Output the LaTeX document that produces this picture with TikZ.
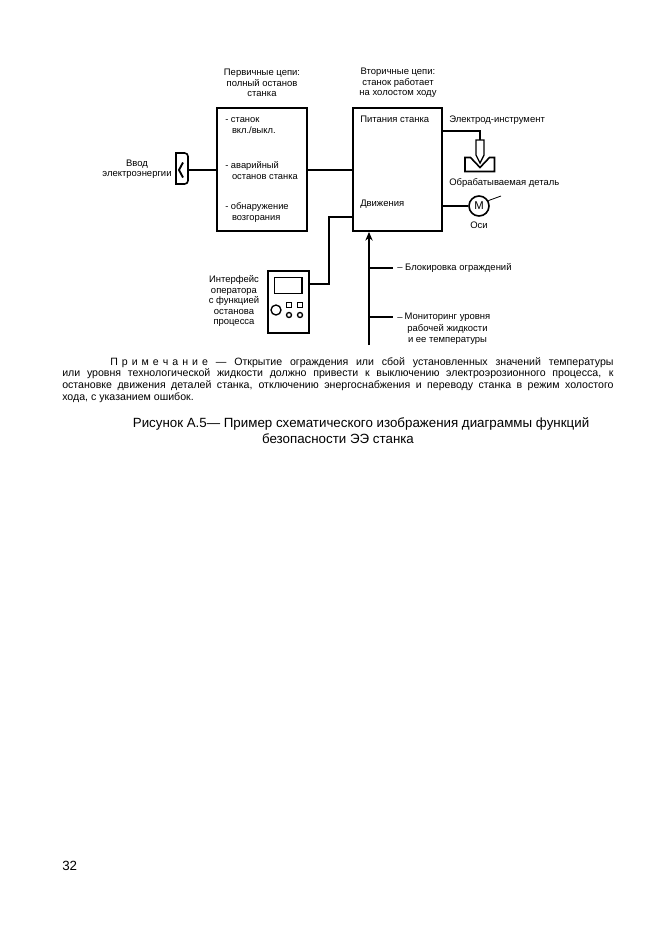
\documentclass[tikz,border=0pt]{standalone}
\usepackage{fontspec}
\setmainfont{Liberation Sans}
\usetikzlibrary{arrows.meta}
\tikzset{
    blockbox/.style={draw,line width=1.2pt,inner sep=0pt,anchor=north west},
    smalltext/.style={font=\fontsize{7.1}{7.9}\selectfont,align=center,inner sep=0pt},
    itemtext/.style={font=\fontsize{7}{8.25}\selectfont,inner sep=0pt,align=left,anchor=north west},
    wire/.style={line width=1.2pt},
    thinwire/.style={line width=1pt},
}

\begin{document}
\begin{tikzpicture}[x=0.75pt,y=-0.75pt,>=Stealth]
    \useasboundingbox (0,0) rectangle (661,936);

    % main blocks
    \node[blockbox,minimum width=67.75pt,minimum height=92.5pt] (primary) at (216,107) {};
    \node[blockbox,minimum width=67pt,minimum height=92.5pt] (secondary) at (352,107) {};
    \node[smalltext] (primarytitle) at (262,83) {Первичные цепи:\\полный останов\\станка};
    \node[smalltext] (secondarytitle) at (398,83) {Вторичные цепи:\\станок работает\\на холостом ходу};
    \node[itemtext] (item1) at (225,117.5) {- станок\\\ \ \,вкл./выкл.};
    \node[itemtext] (item2) at (225,161.5) {- аварийный\\\ \ \,останов станка};
    \node[itemtext] (item3) at (225,202.5) {- обнаружение\\\ \ \,возгорания};
    \node[smalltext,anchor=west] (power) at (360,119) {Питания станка};
    \node[smalltext,anchor=west] (motion) at (360,204) {Движения};

    % power inlet
    \coordinate (inlet) at (188,170);
    \draw[wire,rounded corners=2.5pt] (183,153) -- (188,153) -- (188,184) -- (183,184);
    \draw[wire] (183,153) -- (176,153) -- (176,184) -- (183,184);
    \draw[line width=1.4pt] (183,162.5) -- (179,170) -- (183,177.5);
    \node[smalltext] (inlettext) at (137,169) {Ввод\\электроэнергии};
    \draw[wire] (inlet) -- (primary.west |- inlet);
    \draw[wire] (primary.east |- inlet) -- (secondary.west |- inlet);

    % electrode and workpiece
    \coordinate (tooltop) at (480,140);
    \draw[thinwire] (secondary.east |- 0,131) -- (480,131) -- (tooltop);
    \draw[thinwire] (476,140) -- (484,140) -- (484,155) -- (480,163) -- (476,155) -- cycle;
    \draw[wire] (465,157.5) -- (470.5,157.5) -- (480,167.5) -- (489.5,157.5) -- (494.5,157.5) -- (494.5,171.5) -- (465,171.5) -- cycle;
    \node[smalltext,anchor=west] (tooltext) at (449,120) {Электрод-инструмент};
    \node[smalltext,anchor=west] (worktext) at (449,183) {Обрабатываемая деталь};

    % motor
    \node[draw,circle,line width=1.2pt,minimum size=15pt,inner sep=0pt,font=\fontsize{8.5}{9}\selectfont] (motor) at (479,206) {M};
    \draw[wire] (secondary.east |- motor) -- (motor);
    \draw[line width=0.6pt] (motor.30) -- (501,196);
    \node[smalltext] (motortext) at (479,225) {Оси};

    % operator panel
    \node[blockbox,minimum width=30.75pt,minimum height=46.5pt] (panel) at (267,270) {};
    \node[draw,line width=1pt,minimum width=20.5pt,minimum height=12pt,inner sep=0pt,anchor=north west] (screen) at (274,277) {};
    \node[draw,circle,line width=1pt,minimum size=7.5pt,inner sep=0pt] (knob) at (276,310) {};
    \foreach \x in {289,300}{
        \draw[line width=1pt] (\x-2.5,302.5) rectangle (\x+2.5,307.5);
        \draw[line width=1pt] (\x,315) circle (2.5);
    }
    \coordinate (panelbend) at (329,284);
    \coordinate (secondarybend) at (329,217);
    \draw[wire] (panel.east |- panelbend) -- (panelbend) -- (secondarybend) -- (secondary.west |- secondarybend);
    \node[smalltext] (paneltext) at (234,301) {Интерфейс\\оператора\\с функцией\\останова\\процесса};

    % interlocks
    \coordinate (trunkend) at (369,345);
    \coordinate (guardend) at (393,268);
    \coordinate (fluidend) at (393,317);
    \draw[thinwire,-{Stealth[length=6.5pt,width=5.5pt]}] (trunkend) -- (trunkend |- secondary.south);
    \draw[thinwire] (trunkend |- guardend) -- (guardend);
    \draw[thinwire] (trunkend |- fluidend) -- (fluidend);
    \node[smalltext,anchor=west] (guardtext) at (397,268) {– Блокировка ограждений};
    \node[smalltext,anchor=base west] (fluiddash) at (397,320) {–};
    \node[font=\fontsize{7.1}{8.5}\selectfont,align=center,inner sep=0pt,anchor=north] (fluidtext) at (447.5,313) {Мониторинг уровня\\рабочей жидкости\\и ее температуры};

    % note and caption
    \node[anchor=north west,inner sep=0pt,text width=413.5pt,align=justify,font=\fontsize{7.95}{8.75}\selectfont] (note) at (62,357)
        {\hspace*{36pt}{\spaceskip=3pt\relax П р и м е ч а н и е}\hspace*{6pt}— Открытие ограждения или сбой установленных значений температуры\linebreak
        или уровня технологической жидкости должно привести к выключению электроэрозионного процесса, к\linebreak
        остановке движения деталей станка, отключению энергоснабжения и переводу станка в режим холостого\linebreak
        хода, с указанием ошибок.};
    \node[inner sep=0pt,font=\fontsize{10}{11.2}\selectfont] (caption) at (361,424) {Рисунок А.5— Пример схематического изображения диаграммы функций};
    \node[inner sep=0pt,font=\fontsize{10}{11.2}\selectfont] (captionend) at (338,438.5) {безопасности ЭЭ станка};
    \node[anchor=west,inner sep=0pt,font=\fontsize{10}{11}\selectfont] (pagenum) at (62,866) {32};
\end{tikzpicture}
\end{document}
